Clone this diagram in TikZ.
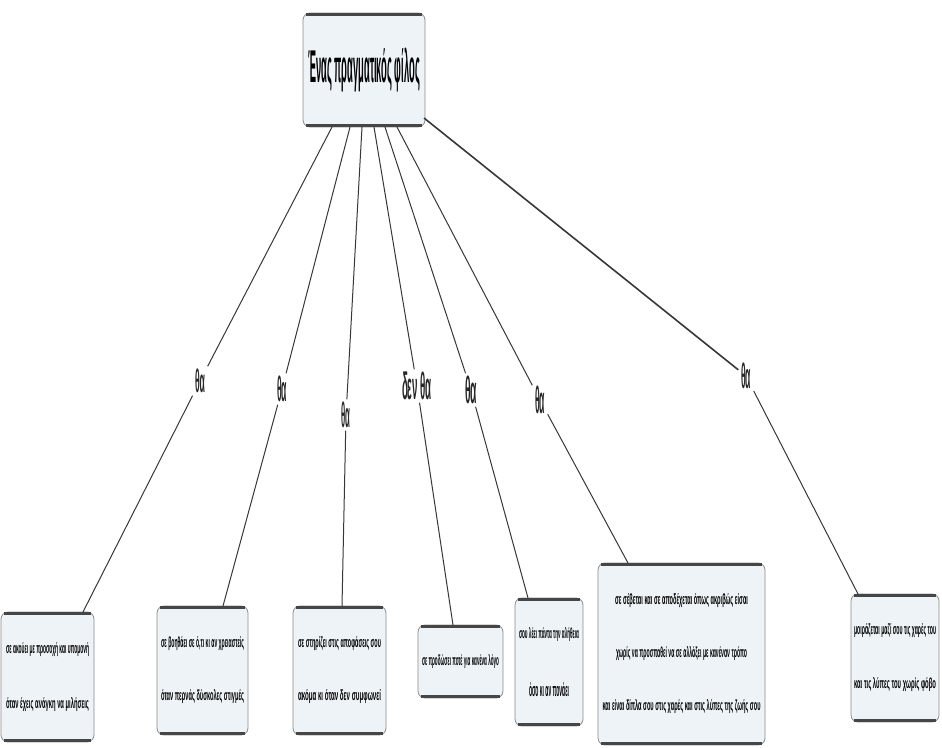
\documentclass[tikz,border=0pt]{standalone}
\usepackage{fontspec}
\setmainfont{Liberation Sans}
\usepackage{graphicx}
\definecolor{boxfill}{RGB}{237,243,246}
\definecolor{boxline}{RGB}{140,140,140}
\definecolor{barcol}{RGB}{70,70,70}
\definecolor{edgecol}{RGB}{55,55,55}
\newcommand\stk[1]{\vbox{\offinterlineskip\halign{\hfil##\hfil\cr#1}}}
\newcommand\rl[2]{\resizebox*{#1}{14pt}{\bfseries #2}}
\newcommand\gp[1]{\noalign{\vskip#1}}
\tikzset{
  concept/.style={draw=boxline, fill=boxfill, rounded corners=7pt, line width=0.8pt, inner sep=0pt, text=black},
  topbar/.style={draw=barcol, line width=3pt},
  linklabel/.style={inner sep=2.5pt, text=black!85, font=\bfseries},
  link/.style={draw=edgecol, line width=1pt}
}
\begin{document}
\begin{tikzpicture}[x=1pt,y=-1pt]
\useasboundingbox (0,0) rectangle (942,747);
% concepts
\node[concept, minimum width=122pt, minimum height=114pt] (root) at (364,70)
  {\resizebox*{112pt}{44pt}{\bfseries Ένας πραγματικός φίλος}};
\node[concept, minimum width=93pt, minimum height=130pt] (c1) at (47.5,677)
  {\stk{\rl{83pt}{σε ακούει με προσοχή και υπομονή}\cr\gp{41pt}\rl{83pt}{όταν έχεις ανάγκη να μιλήσεις}\cr}};
\node[concept, minimum width=91pt, minimum height=129pt] (c2) at (202.5,670.5)
  {\stk{\rl{83pt}{σε βοηθάει σε ό,τι κι αν χρειαστείς}\cr\gp{39pt}\rl{83pt}{όταν περνάς δύσκολες στιγμές}\cr}};
\node[concept, minimum width=93pt, minimum height=129pt] (c3) at (339.5,670.5)
  {\stk{\rl{83pt}{σε στηρίζει στις αποφάσεις σου}\cr\gp{39pt}\rl{83pt}{ακόμα κι όταν δεν συμφωνεί}\cr}};
\node[concept, minimum width=85pt, minimum height=73pt] (c4) at (460.5,661.5)
  {\stk{\rl{77pt}{σε προδώσει ποτέ για κανένα λόγο}\cr}};
\node[concept, minimum width=68pt, minimum height=128pt] (c5) at (549,662)
  {\stk{\rl{60pt}{σου λέει πάντα την αλήθεια}\cr\gp{41pt}\rl{40pt}{όσο κι αν πονάει}\cr}};
\node[concept, minimum width=167pt, minimum height=182pt] (c6) at (681.5,654)
  {\stk{\rl{133pt}{σε σέβεται και σε αποδέχεται όπως ακριβώς είσαι}\cr\gp{39pt}\rl{131pt}{χωρίς να προσπαθεί να σε αλλάξει με κανέναν τρόπο}\cr\gp{39pt}\rl{158pt}{και είναι δίπλα σου στις χαρές και στις λύπες της ζωής σου}\cr}};
\node[concept, minimum width=88pt, minimum height=128pt] (c7) at (895,658)
  {\stk{\rl{82pt}{μοιράζεται μαζί σου τις χαρές του}\cr\gp{40pt}\rl{82pt}{και τις λύπες του χωρίς φόβο}\cr}};
\foreach \n in {root,c1,c2,c3,c4,c5,c6,c7}{
  \draw[topbar] ([xshift=3pt,yshift=-1.6pt]\n.north west) -- ([xshift=-3pt,yshift=-1.6pt]\n.north east);
  \draw[topbar] ([xshift=3pt,yshift=1.6pt]\n.south west) -- ([xshift=-3pt,yshift=1.6pt]\n.south east);
}
% link labels
\node[linklabel] (l1) at (200,381) {\resizebox*{10pt}{24pt}{θα}};
\node[linklabel] (l2) at (282,389) {\resizebox*{10pt}{26pt}{θα}};
\node[linklabel] (l3) at (346,415) {\resizebox*{9pt}{26pt}{θα}};
\node[linklabel] (l4) at (417,386) {\resizebox*{30pt}{28pt}{δεν θα}};
\node[linklabel] (l5) at (471,390) {\resizebox*{12pt}{28pt}{θα}};
\node[linklabel] (l6) at (540,400) {\resizebox*{10pt}{28pt}{θα}};
\node[linklabel] (l7) at (746,376) {\resizebox*{10pt}{26pt}{θα}};
% link ends
\coordinate (r1) at (332,127);
\coordinate (r2) at (350,127);
\coordinate (r3) at (362,127);
\coordinate (r4) at (374,127);
\coordinate (r5) at (385,127);
\coordinate (r6) at (397,127);
\coordinate (r7) at (424,118);
\coordinate (e1) at (83,612);
\coordinate (e2) at (223,606);
\coordinate (e3) at (342,606);
\coordinate (e4) at (453,625);
\coordinate (e5) at (528,598);
\coordinate (e6) at (628,563);
\coordinate (e7) at (858,594);
% links
\draw[link] (r1) -- (l1) -- (e1);
\draw[link] (r2) -- (l2) -- (e2);
\draw[link] (r3) -- (l3) -- (e3);
\draw[link] (r4) -- (l4) -- (e4);
\draw[link] (r5) -- (l5) -- (e5);
\draw[link] (r6) -- (l6) -- (e6);
\draw[link, line width=1.6pt] (r7) -- (l7);
\draw[link] (l7) -- (e7);
\end{tikzpicture}
\end{document}
